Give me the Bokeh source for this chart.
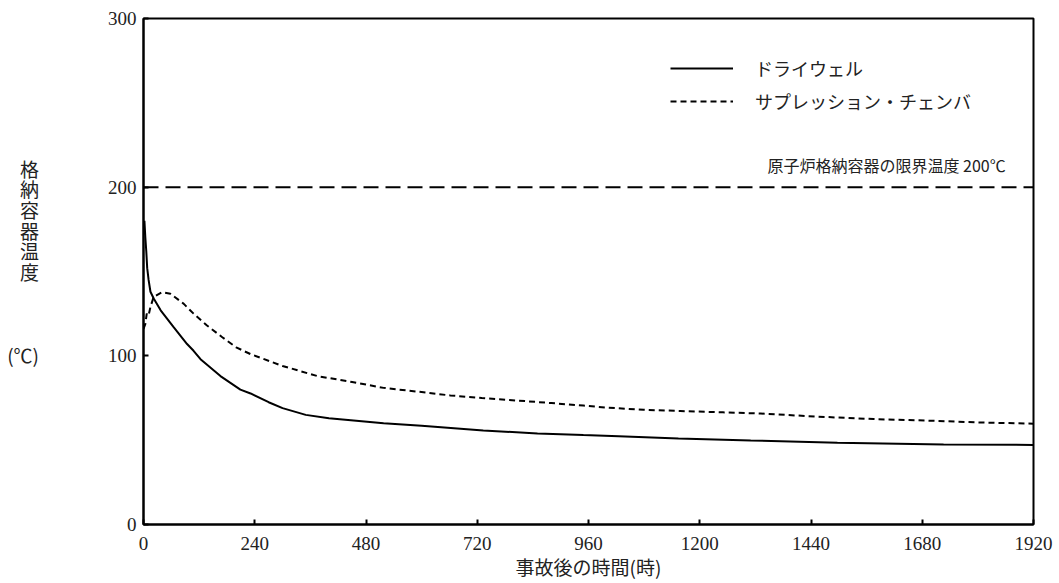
from bokeh.plotting import figure
from bokeh.models import Range1d, FixedTicker, Span, Label
from bokeh.embed import file_html
from bokeh.resources import INLINE

# --- data ---
hours_dw = [0, 2, 4, 6, 8, 11, 15, 22, 37, 65, 94, 108, 123, 166, 209, 231, 270, 300,
            350, 400, 518, 600, 733, 850, 949, 1025, 1154, 1310, 1497, 1726, 1920]
temp_dw = [172, 180, 170, 162, 152, 145, 138, 134, 127, 117, 107, 103, 98, 88, 80, 77.7,
           72.5, 69, 65, 63, 60, 58.5, 55.7, 54, 53, 52.3, 51, 49.8, 48.5, 47.5, 47.2]

hours_sc = [0, 4, 7, 11, 15, 22, 40, 58, 87, 108, 137, 170, 200, 231, 300, 375, 450, 518,
            600, 662, 730, 806, 880, 949, 1000, 1079, 1158, 1250, 1331, 1450, 1575, 1704,
            1800, 1920]
temp_sc = [116, 119, 125, 124, 129, 135, 137.7, 136.8, 130.8, 125, 118, 111, 105, 101, 94,
           88, 84.5, 81, 78.5, 76.5, 75, 73.5, 72, 70.5, 69.3, 68, 67.3, 66.5, 65.8, 64,
           62.5, 61.5, 60.5, 59.8]

x_ticks = [0, 240, 480, 720, 960, 1200, 1440, 1680, 1920]
y_ticks = [0, 100, 200, 300]
limit_temp = 200

name_dw = "ドライウェル"
name_sc = "サプレッション・チェンバ"
limit_text = "原子炉格納容器の限界温度 200℃"
x_title = "事故後の時間(時)"
y_title = "格\n納\n容\n器\n温\n度\n\n\n\n(℃)\n"

SERIF = "Liberation Serif"
JP = "Noto Sans CJK JP"

p = figure(width=1057, height=583, output_backend="svg", toolbar_location=None,
           x_range=Range1d(0, 1920), y_range=Range1d(0, 300),
           min_border_left=143, min_border_right=24, min_border_top=18,
           min_border_bottom=59)
p.grid.visible = False
p.outline_line_color = "black"
p.outline_line_width = 2
p.background_fill_color = "white"

for ax in (p.xaxis, p.yaxis):
    ax.axis_line_width = 2
    ax.axis_line_color = "black"
    ax.major_tick_in = 5
    ax.major_tick_out = 0
    ax.major_tick_line_width = 2
    ax.minor_tick_line_color = None
    ax.major_label_text_font = SERIF
    ax.major_label_text_font_size = "19px"
    ax.major_label_text_color = "#222222"

p.xaxis.ticker = FixedTicker(ticks=x_ticks)
p.yaxis.ticker = FixedTicker(ticks=y_ticks)
p.xaxis.major_label_standoff = 12
p.yaxis.major_label_standoff = 7

p.xaxis.axis_label = x_title
p.xaxis.axis_label_text_font = JP
p.xaxis.axis_label_text_font_style = "normal"
p.xaxis.axis_label_text_font_size = "19px"
p.xaxis.axis_label_text_color = "#222222"
p.xaxis.axis_label_standoff = 0

p.yaxis.axis_label = y_title
p.yaxis.axis_label_orientation = "horizontal"
p.yaxis.axis_label_text_align = "center"
p.yaxis.axis_label_text_font = JP
p.yaxis.axis_label_text_font_style = "normal"
p.yaxis.axis_label_text_font_size = "19px"
p.yaxis.axis_label_text_line_height = 0.765
p.yaxis.axis_label_text_color = "#222222"
p.yaxis.axis_label_standoff = 66

p.line(hours_dw, temp_dw, line_color="black", line_width=2, legend_label=name_dw)
p.line(hours_sc, temp_sc, line_color="black", line_width=2, line_dash="6 4",
       legend_label=name_sc)

p.add_layout(Span(location=limit_temp, dimension="width", line_color="black",
                  line_width=2, line_dash="15 7"))

p.add_layout(Label(x=1860, y=limit_temp, y_offset=10, text=limit_text,
                   text_align="right", text_baseline="bottom", text_font=JP,
                   text_font_size="16px", text_color="#222222"))

lg = p.legend[0]
lg.location = (527, 410)
lg.padding = 0
lg.margin = 0
lg.spacing = 7
lg.glyph_width = 63
lg.glyph_height = 20
lg.label_height = 20
lg.label_standoff = 22
lg.label_text_font = JP
lg.label_text_font_size = "18px"
lg.label_text_color = "#222222"
lg.border_line_alpha = 0
lg.background_fill_alpha = 0

open("out.html", "w").write(file_html(p, INLINE))
